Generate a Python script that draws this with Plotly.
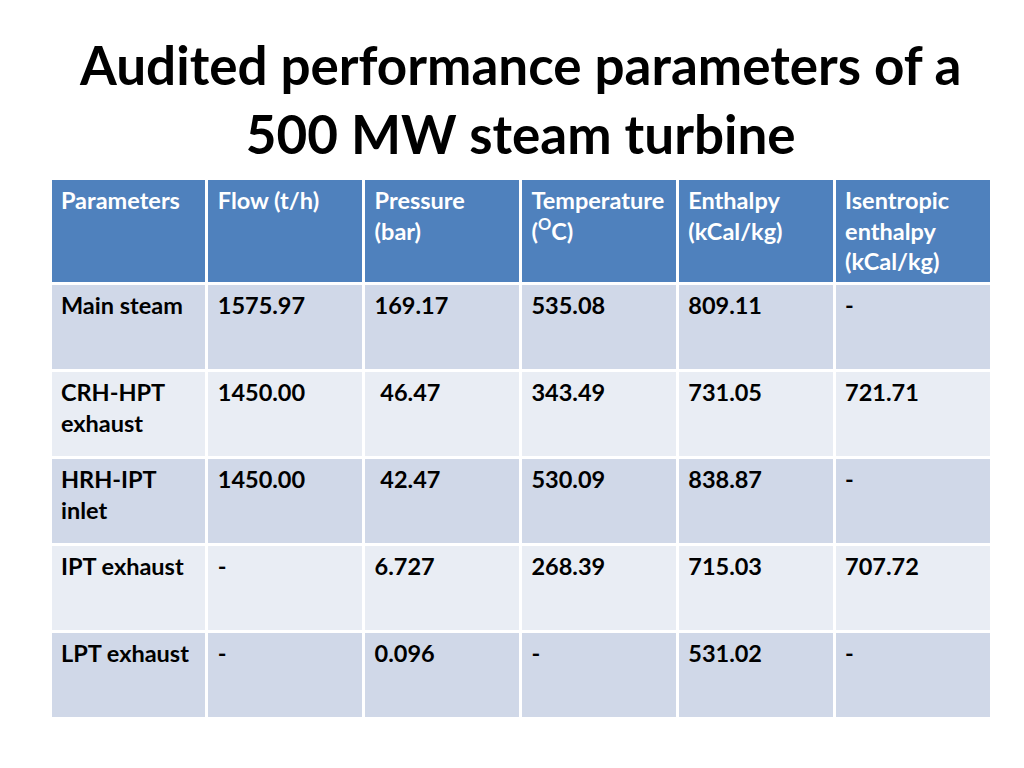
import plotly.graph_objects as go

title_lines = ["Audited performance parameters of a", "500 MW steam turbine"]
headers = ["Parameters", "Flow (t/h)", "Pressure<br>(bar)", "Temperature<br>(<sup>O</sup>C)",
           "Enthalpy<br>(kCal/kg)", "Isentropic<br>enthalpy<br>(kCal/kg)"]
parameters = ["Main steam", "CRH-HPT<br>exhaust", "HRH-IPT<br>inlet", "IPT exhaust", "LPT exhaust"]
flow = ["1575.97", "1450.00", "1450.00", "-", "-"]
pressure = ["169.17", "\u00a046.47", "\u00a042.47", "6.727", "0.096"]
temperature = ["535.08", "343.49", "530.09", "268.39", "-"]
enthalpy = ["809.11", "731.05", "838.87", "715.03", "531.02"]
isentropic = ["-", "721.71", "-", "707.72", "-"]

columns = [parameters, flow, pressure, temperature, enthalpy, isentropic]
row_colors = ["#D0D8E8", "#E9EDF4", "#D0D8E8", "#E9EDF4", "#D0D8E8"]

FONT = "Lato, Calibri, sans-serif"


def fmt(s):
    return "<b>" + "<br>".join("\u2009" + part for part in s.split("<br>")) + "</b>"


fig = go.Figure(go.Table(
    domain=dict(x=[42/1024, 983/1024], y=[1-716/768, 1-170/768]),
    columnwidth=[1]*6,
    header=dict(
        values=[fmt(h) for h in headers],
        fill_color="#4F81BD",
        line=dict(color="white", width=3),
        align="left",
        font=dict(family=FONT, size=23.5, color="white"),
        height=101,
    ),
    cells=dict(
        values=[[fmt(v) for v in col] for col in columns],
        fill_color=[row_colors]*6,
        line=dict(color="white", width=3),
        align="left",
        font=dict(family=FONT, size=23.5, color="black"),
        height=87,
    ),
))

fig.add_annotation(
    text="<b>" + "<br>".join(title_lines) + "</b>",
    x=0.5, y=1-91/768, xref="paper", yref="paper",
    showarrow=False, xanchor="center", yanchor="middle",
    font=dict(family=FONT, size=53, color="black"),
)

fig.update_layout(
    width=1024, height=768,
    margin=dict(l=0, r=0, t=0, b=0),
    paper_bgcolor="white", plot_bgcolor="white",
)

fig.write_html("out.html")
